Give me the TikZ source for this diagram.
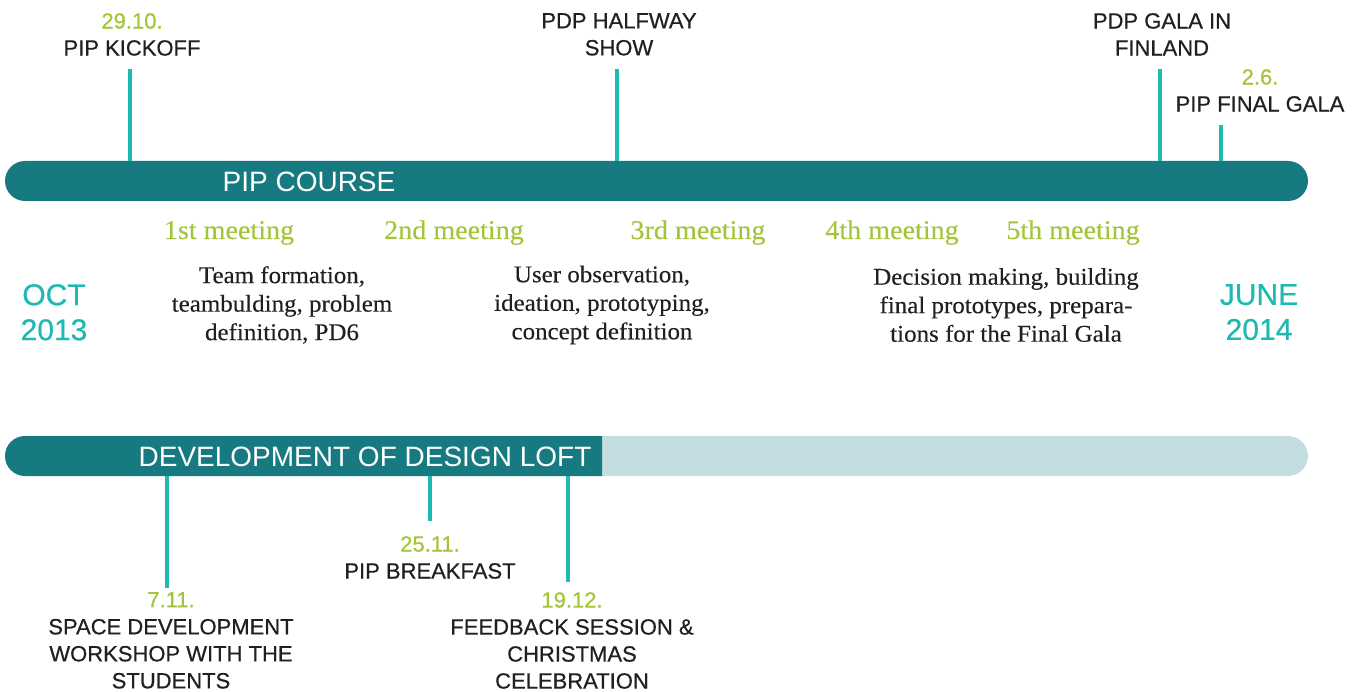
\documentclass[tikz,border=0pt]{standalone}
\usepackage{fontspec}
\setmainfont{Liberation Serif}[FakeStretch=1.04, FakeBold=0.25]
\setsansfont{Liberation Sans}
\newfontfamily\labelsans{Liberation Sans}[FakeBold=0.6]

\definecolor{barteal}{RGB}{23,122,128}
\definecolor{tickteal}{RGB}{30,185,177}
\definecolor{datagreen}{RGB}{163,197,58}
\definecolor{inkdark}{RGB}{35,31,32}
\definecolor{barpale}{RGB}{195,221,224}

\newcommand\evdate[1]{\textcolor{datagreen}{#1}}

\tikzset{
  barshape/.style={rectangle, inner sep=0pt, minimum width=1303pt, minimum height=40pt, rounded corners=20pt},
  bartitle/.style={font=\sffamily\fontsize{28}{28}\selectfont, text=white, inner sep=0pt},
  evtlabel/.style={font=\labelsans\fontsize{22}{27}\selectfont, text=inkdark, align=center, inner sep=0pt, anchor=north},
  ticklink/.style={draw=tickteal, line width=4pt},
  meeting/.style={font=\rmfamily\fontsize{27}{27}\selectfont, text=datagreen, inner sep=0pt, anchor=base},
  desc/.style={font=\rmfamily\fontsize{24}{28.5}\selectfont, text=inkdark, align=center, inner sep=0pt},
  monthlabel/.style={font=\labelsans\fontsize{30}{35}\selectfont, text=tickteal, align=center, inner sep=0pt, anchor=north},
}

\begin{document}
\begin{tikzpicture}[x=1pt,y=-1pt]
  \useasboundingbox (0,0) rectangle (1364,692);

  % ---- PIP course timeline ----
  \node[barshape, fill=barteal] (pipbar) at (656.5,181) {};
  \node[bartitle] (piptitle) at (309,182) {PIP COURSE};

  \node[evtlabel] (kickoff) at (132,13) {\evdate{29.10.}\\PIP KICKOFF};
  \node[evtlabel] (halfway) at (619,13) {PDP HALFWAY\\SHOW};
  \node[evtlabel] (galafi) at (1162,13) {PDP GALA IN\\FINLAND};
  \node[evtlabel] (finalgala) at (1260,69) {\evdate{2.6.}\\PIP FINAL GALA};

  \coordinate (tkick) at (130,69);
  \coordinate (thalf) at (617,69);
  \coordinate (tgala) at (1160,69);
  \coordinate (tfinal) at (1221,125);
  \draw[ticklink] (tkick) -- (tkick |- pipbar.north);
  \draw[ticklink] (thalf) -- (thalf |- pipbar.north);
  \draw[ticklink] (tgala) -- (tgala |- pipbar.north);
  \draw[ticklink] (tfinal) -- (tfinal |- pipbar.north);

  % meetings
  \node[meeting] (m1) at (229,239) {1st meeting};
  \node[meeting] (m2) at (454,239) {2nd meeting};
  \node[meeting] (m3) at (698,239) {3rd meeting};
  \node[meeting] (m4) at (892,239) {4th meeting};
  \node[meeting] (m5) at (1073,239) {5th meeting};

  \node[desc] (d1) at (282,305) {Team formation,\\teambulding, problem\\definition, PD6};
  \node[desc] (d2) at (602,305) {User observation,\\ideation, prototyping,\\concept definition};
  \node[desc] (d3) at (1006,305) {Decision making, building\\final prototypes, prepara-\\tions for the Final Gala};

  \node[monthlabel] (start) at (54,284) {OCT\\2013};
  \node[monthlabel] (finish) at (1259,284) {JUNE\\2014};

  % ---- Design Loft timeline ----
  \node[barshape, fill=barpale] (loftbar) at (656.5,456) {};
  \fill[barteal] (602,436) -- (25,436) arc[start angle=270, end angle=90, radius=20] -- (602,476) -- cycle;
  \node[bartitle] (lofttitle) at (365,457) {DEVELOPMENT OF DESIGN LOFT};

  \coordinate (tws) at (167,588);
  \coordinate (tbf) at (430,521);
  \coordinate (tfb) at (568,582);
  \draw[ticklink] (loftbar.south -| tws) -- (tws);
  \draw[ticklink] (loftbar.south -| tbf) -- (tbf);
  \draw[ticklink] (loftbar.south -| tfb) -- (tfb);

  \node[evtlabel] (workshop) at (171,592) {\evdate{7.11.}\\SPACE DEVELOPMENT\\WORKSHOP WITH THE\\STUDENTS};
  \node[evtlabel] (breakfast) at (430,536) {\evdate{25.11.}\\PIP BREAKFAST};
  \node[evtlabel] (feedback) at (572,592) {\evdate{19.12.}\\FEEDBACK SESSION \&\\CHRISTMAS\\CELEBRATION};
\end{tikzpicture}
\end{document}
